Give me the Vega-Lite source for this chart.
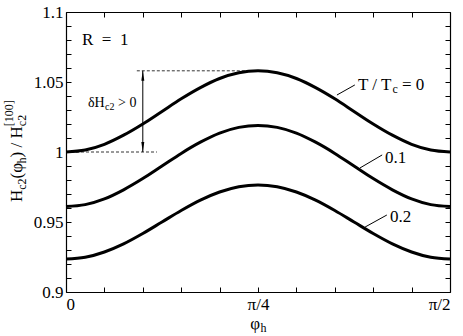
{
  "$schema": "https://vega.github.io/schema/vega-lite/v6.json",
  "width": 384,
  "height": 280,
  "autosize": {"type": "none"},
  "padding": {"left": 66, "top": 12, "right": 13, "bottom": 44},
  "background": "white",
  "config": {
    "view": {"stroke": null},
    "axis": {
      "grid": false, "domainColor": "black", "tickColor": "black", "domainWidth": 1.2, "tickWidth": 1,
      "labelFont": "Times New Roman", "labelFontSize": 17, "labelColor": "black",
      "labelOverlap": false, "labelBound": false, "title": null
    },
    "text": {"font": "Times New Roman", "color": "black"}
  },
  "datasets": {
    "curves": [
      {"p": 0, "T": "0", "H": 1.0000}, {"p": 4.5, "T": "0", "H": 1.0014}, {"p": 9, "T": "0", "H": 1.0055}, {"p": 13.5, "T": "0", "H": 1.0120}, {"p": 18, "T": "0", "H": 1.0200}, {"p": 22.5, "T": "0", "H": 1.0290}, {"p": 27, "T": "0", "H": 1.0380}, {"p": 31.5, "T": "0", "H": 1.0460}, {"p": 36, "T": "0", "H": 1.0525}, {"p": 40.5, "T": "0", "H": 1.0566}, {"p": 45, "T": "0", "H": 1.0580},
      {"p": 49.5, "T": "0", "H": 1.0566}, {"p": 54, "T": "0", "H": 1.0525}, {"p": 58.5, "T": "0", "H": 1.0460}, {"p": 63, "T": "0", "H": 1.0380}, {"p": 67.5, "T": "0", "H": 1.0290}, {"p": 72, "T": "0", "H": 1.0200}, {"p": 76.5, "T": "0", "H": 1.0120}, {"p": 81, "T": "0", "H": 1.0055}, {"p": 85.5, "T": "0", "H": 1.0014}, {"p": 90, "T": "0", "H": 1.0000},
      {"p": 0, "T": "0.1", "H": 0.9610}, {"p": 4.5, "T": "0.1", "H": 0.9624}, {"p": 9, "T": "0.1", "H": 0.9665}, {"p": 13.5, "T": "0.1", "H": 0.9730}, {"p": 18, "T": "0.1", "H": 0.9810}, {"p": 22.5, "T": "0.1", "H": 0.9900}, {"p": 27, "T": "0.1", "H": 0.9990}, {"p": 31.5, "T": "0.1", "H": 1.0070}, {"p": 36, "T": "0.1", "H": 1.0135}, {"p": 40.5, "T": "0.1", "H": 1.0176}, {"p": 45, "T": "0.1", "H": 1.0190},
      {"p": 49.5, "T": "0.1", "H": 1.0176}, {"p": 54, "T": "0.1", "H": 1.0135}, {"p": 58.5, "T": "0.1", "H": 1.0070}, {"p": 63, "T": "0.1", "H": 0.9990}, {"p": 67.5, "T": "0.1", "H": 0.9900}, {"p": 72, "T": "0.1", "H": 0.9810}, {"p": 76.5, "T": "0.1", "H": 0.9730}, {"p": 81, "T": "0.1", "H": 0.9665}, {"p": 85.5, "T": "0.1", "H": 0.9624}, {"p": 90, "T": "0.1", "H": 0.9610},
      {"p": 0, "T": "0.2", "H": 0.9235}, {"p": 4.5, "T": "0.2", "H": 0.9248}, {"p": 9, "T": "0.2", "H": 0.9286}, {"p": 13.5, "T": "0.2", "H": 0.9344}, {"p": 18, "T": "0.2", "H": 0.9418}, {"p": 22.5, "T": "0.2", "H": 0.9500}, {"p": 27, "T": "0.2", "H": 0.9582}, {"p": 31.5, "T": "0.2", "H": 0.9656}, {"p": 36, "T": "0.2", "H": 0.9714}, {"p": 40.5, "T": "0.2", "H": 0.9752}, {"p": 45, "T": "0.2", "H": 0.9765},
      {"p": 49.5, "T": "0.2", "H": 0.9752}, {"p": 54, "T": "0.2", "H": 0.9714}, {"p": 58.5, "T": "0.2", "H": 0.9656}, {"p": 63, "T": "0.2", "H": 0.9582}, {"p": 67.5, "T": "0.2", "H": 0.9500}, {"p": 72, "T": "0.2", "H": 0.9418}, {"p": 76.5, "T": "0.2", "H": 0.9344}, {"p": 81, "T": "0.2", "H": 0.9286}, {"p": 85.5, "T": "0.2", "H": 0.9248}, {"p": 90, "T": "0.2", "H": 0.9235}
    ],
    "dashes": [
      {"x": 0, "x2": 21.3, "y": 1.0, "y2": 1.0},
      {"x": 16.6, "x2": 45, "y": 1.058, "y2": 1.058}
    ],
    "solid": [
      {"x": 18.0, "x2": 18.0, "y": 1.0, "y2": 1.058},
      {"x": 63.5, "x2": 67.7, "y": 1.0407, "y2": 1.0479},
      {"x": 68.9, "x2": 74.1, "y": 0.9886, "y2": 0.9979},
      {"x": 70.1, "x2": 75.2, "y": 0.9464, "y2": 0.9550}
    ],
    "heads": [
      {"x": 18.0, "y": 1.05443, "shape": "M0,-1L0.3,1L-0.3,1Z"},
      {"x": 18.0, "y": 1.00357, "shape": "M0,1L0.3,-1L-0.3,-1Z"}
    ],
    "texts": [
      {"x": 3.75, "y": 1.07643, "t": "R\u2002=\u20021", "s": 17, "a": 0},
      {"x": 5.16, "y": 1.03214, "t": "δH", "s": 14, "a": 0},
      {"x": 9.14, "y": 1.03, "t": "c2", "s": 10, "a": 0},
      {"x": 12.19, "y": 1.03214, "t": "> 0", "s": 14, "a": 0},
      {"x": 68.44, "y": 1.04429, "t": "T / T", "s": 17, "a": 0},
      {"x": 76.52, "y": 1.04214, "t": "c", "s": 12, "a": 0},
      {"x": 78.75, "y": 1.04429, "t": "= 0", "s": 17, "a": 0},
      {"x": 74.77, "y": 0.99214, "t": "0.1", "s": 17, "a": 0},
      {"x": 75.94, "y": 0.95, "t": "0.2", "s": 17, "a": 0},
      {"x": -10.31, "y": 0.96429, "t": "H", "s": 17, "a": 270},
      {"x": -9.49, "y": 0.97307, "t": "c2", "s": 12, "a": 270},
      {"x": -10.31, "y": 0.98114, "t": "(φ", "s": 17, "a": 270},
      {"x": -9.49, "y": 0.99186, "t": "h", "s": 12, "a": 270},
      {"x": -10.31, "y": 0.99614, "t": ") /", "s": 17, "a": 270},
      {"x": -10.31, "y": 1.00964, "t": "H", "s": 17, "a": 270},
      {"x": -9.49, "y": 1.01843, "t": "c2", "s": 12, "a": 270},
      {"x": -12.42, "y": 1.01843, "t": "[100]", "s": 12, "a": 270},
      {"x": 43.2, "y": 0.87357, "t": "φ", "s": 17, "a": 0},
      {"x": 45.6, "y": 0.87143, "t": "h", "s": 12, "a": 0}
    ]
  },
  "resolve": {"axis": {"x": "independent", "y": "independent"}},
  "layer": [
    {
      "data": {"name": "curves"},
      "mark": {"type": "line", "color": "black", "strokeWidth": 3, "interpolate": "monotone"},
      "encoding": {
        "x": {"field": "p", "type": "quantitative", "scale": {"domain": [0, 90], "nice": false, "zero": false},
          "axis": {"orient": "bottom", "values": [0, 9, 18, 27, 36, 45, 54, 63, 72, 81, 90], "tickSize": -5, "labelPadding": 9,
            "labelExpr": "datum.value == 0 ? '0' : datum.value == 45 ? 'π/4' : datum.value == 90 ? 'π/2' : ''"}},
        "y": {"field": "H", "type": "quantitative", "scale": {"domain": [0.9, 1.1], "nice": false, "zero": false},
          "axis": {"orient": "left", "values": [0.9, 0.91, 0.92, 0.93, 0.94, 0.95, 0.96, 0.97, 0.98, 0.99, 1, 1.01, 1.02, 1.03, 1.04, 1.05, 1.06, 1.07, 1.08, 1.09, 1.1], "tickSize": -5, "labelPadding": 8,
            "labelExpr": "abs(round(datum.value * 100)) % 5 == 0 ? '' + round(datum.value * 100) / 100 : ''"}},
        "detail": {"field": "T"}
      }
    },
    {
      "data": {"name": "curves"},
      "mark": {"type": "line", "strokeOpacity": 0},
      "encoding": {
        "x": {"field": "p", "type": "quantitative",
          "axis": {"orient": "top", "values": [0, 9, 18, 27, 36, 45, 54, 63, 72, 81, 90], "tickSize": -5, "labels": false}},
        "y": {"field": "H", "type": "quantitative",
          "axis": {"orient": "right", "values": [0.9, 0.91, 0.92, 0.93, 0.94, 0.95, 0.96, 0.97, 0.98, 0.99, 1, 1.01, 1.02, 1.03, 1.04, 1.05, 1.06, 1.07, 1.08, 1.09, 1.1], "tickSize": -5, "labels": false}},
        "detail": {"field": "T"}
      }
    },
    {
      "data": {"name": "dashes"},
      "mark": {"type": "rule", "color": "black", "strokeWidth": 0.8, "strokeDash": [3, 2]},
      "encoding": {
        "x": {"field": "x", "type": "quantitative", "axis": null},
        "x2": {"field": "x2"},
        "y": {"field": "y", "type": "quantitative", "axis": null},
        "y2": {"field": "y2"}
      }
    },
    {
      "data": {"name": "solid"},
      "mark": {"type": "rule", "color": "black", "strokeWidth": 1},
      "encoding": {
        "x": {"field": "x", "type": "quantitative", "axis": null},
        "x2": {"field": "x2"},
        "y": {"field": "y", "type": "quantitative", "axis": null},
        "y2": {"field": "y2"}
      }
    },
    {
      "data": {"name": "heads"},
      "mark": {"type": "point", "filled": true, "color": "black", "size": 100, "opacity": 1},
      "encoding": {
        "x": {"field": "x", "type": "quantitative", "axis": null},
        "y": {"field": "y", "type": "quantitative", "axis": null},
        "shape": {"field": "shape", "type": "nominal", "scale": null}
      }
    },
    {
      "data": {"name": "texts"},
      "mark": {"type": "text", "align": "left", "baseline": "alphabetic"},
      "encoding": {
        "x": {"field": "x", "type": "quantitative", "axis": null},
        "y": {"field": "y", "type": "quantitative", "axis": null},
        "text": {"field": "t"},
        "size": {"field": "s", "type": "quantitative", "scale": null},
        "angle": {"field": "a", "type": "quantitative", "scale": null}
      }
    }
  ]
}
